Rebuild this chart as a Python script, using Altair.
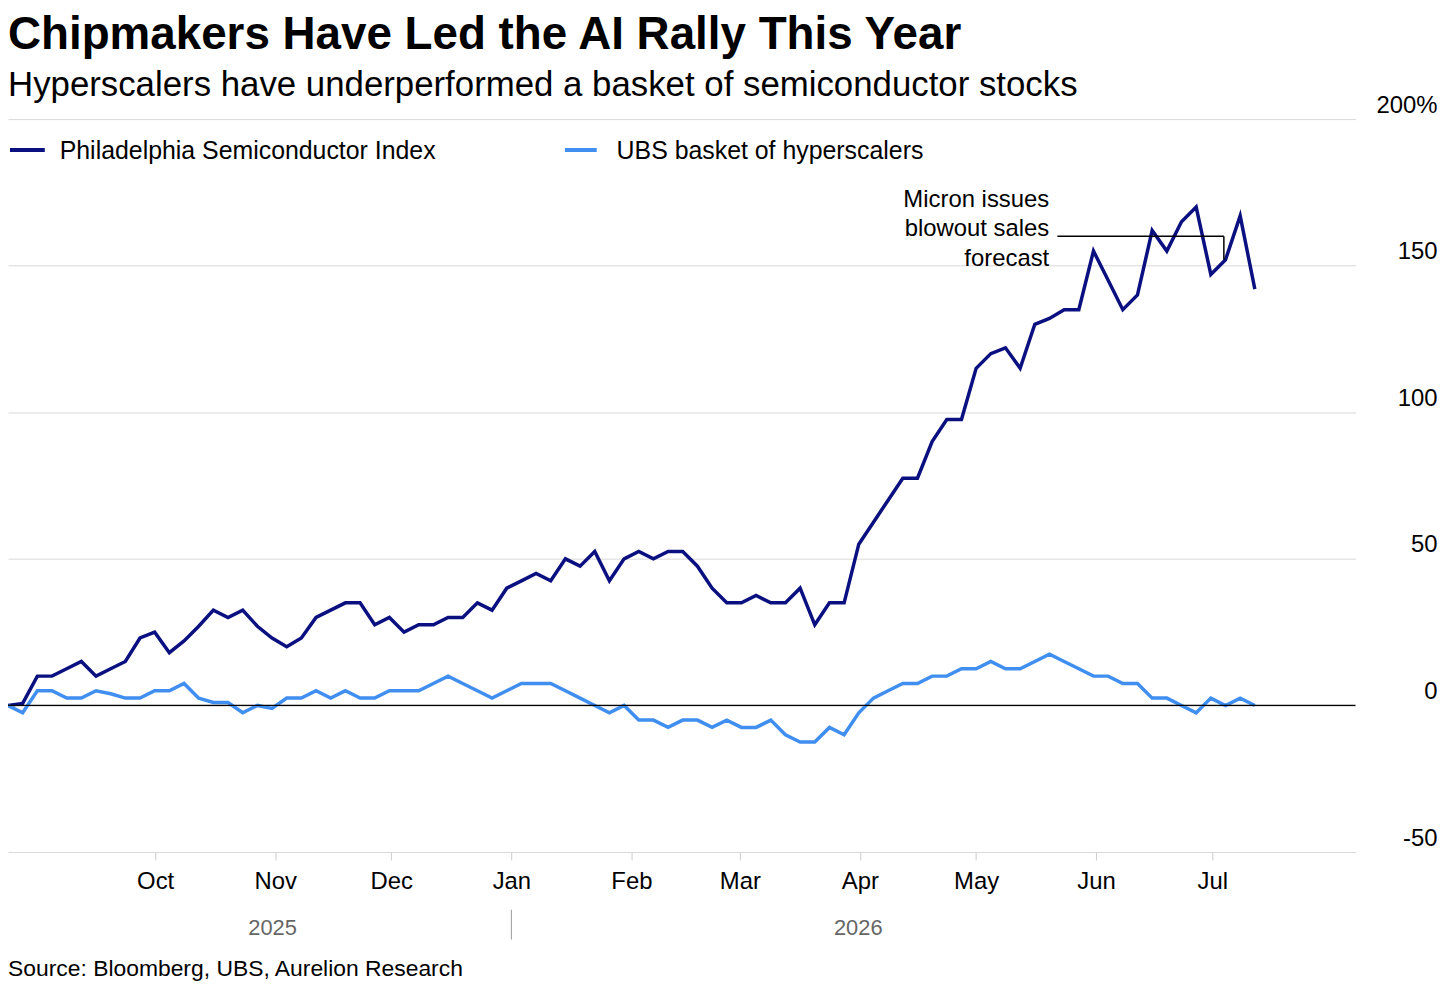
import altair as alt
import pandas as pd

start_date = "2025-08-24"
end_date = "2026-07-12"

sox = [0, 0.7, 10, 10, 12.5, 15, 10, 12.5, 15, 23, 25, 18, 22, 27, 32.5, 30, 32.5, 27, 23, 20,
       23, 30, 32.5, 35, 35, 27.5, 30, 25, 27.5, 27.5, 30, 30, 35, 32.5, 40, 42.5, 45, 42.5, 50, 47.5,
       52.5, 42.5, 50, 52.5, 50, 52.5, 52.5, 47.5, 40, 35, 35, 37.5, 35, 35, 40, 27.5, 35, 35, 55, 62.5,
       70, 77.5, 77.5, 90, 97.5, 97.5, 115, 120, 122, 115, 130, 132, 135, 135, 155, 145, 135, 140, 162, 155,
       165, 170, 147, 152, 167, 142]
ubs = [0, -2.5, 5, 5, 2.5, 2.5, 5, 4, 2.5, 2.5, 5, 5, 7.5, 2.5, 1, 1, -2.5, 0, -1, 2.5,
       2.5, 5, 2.5, 5, 2.5, 2.5, 5, 5, 5, 7.5, 10, 7.5, 5, 2.5, 5, 7.5, 7.5, 7.5, 5, 2.5,
       0, -2.5, 0, -5, -5, -7.5, -5, -5, -7.5, -5, -7.5, -7.5, -5, -10, -12.5, -12.5, -7.5, -10, -2.5, 2.5,
       5, 7.5, 7.5, 10, 10, 12.5, 12.5, 15, 12.5, 12.5, 15, 17.5, 15, 12.5, 10, 10, 7.5, 7.5, 2.5, 2.5,
       0, -2.5, 2.5, 0, 2.5, 0]

series_names = ["Philadelphia Semiconductor Index", "UBS basket of hyperscalers"]
series_colors = ["#0b1080", "#3f8ef0"]
month_ticks = ["2025-10-01", "2025-11-01", "2025-12-01", "2026-01-01", "2026-02-01",
               "2026-03-01", "2026-04-01", "2026-05-01", "2026-06-01", "2026-07-01"]

dates = pd.date_range(start_date, end_date, periods=len(sox))
df = pd.concat([
    pd.DataFrame({"date": dates, "value": sox, "series": series_names[0]}),
    pd.DataFrame({"date": dates, "value": ubs, "series": series_names[1]}),
])

FONT = "Liberation Sans"
x_dom = [pd.Timestamp("2025-08-24").isoformat(), pd.Timestamp("2026-08-07").isoformat()]
xs = alt.Scale(domain=x_dom)
ys = alt.Scale(domain=[-50, 200])
tick_vals = [alt.DateTime(year=int(m[:4]), month=int(m[5:7]), date=1) for m in month_ticks]

lines = alt.Chart(df).mark_line(strokeWidth=3.5).encode(
    x=alt.X("date:T", scale=xs, title=None,
            axis=alt.Axis(format="%b", values=tick_vals,
                          labelFontSize=24, labelColor="black", labelFont=FONT,
                          domain=False, grid=False, tickColor="#cccccc", tickSize=8,
                          labelPadding=10)),
    y=alt.Y("value:Q", scale=ys, title=None,
            axis=alt.Axis(orient="right", values=[-50, 0, 50, 100, 150, 200],
                          labelExpr="datum.value == 200 ? '200%' : (datum.value < 0 ? '-' + abs(datum.value) : datum.label)",
                          labelFontSize=24, labelColor="black", labelFont=FONT,
                          labelAlign="right", labelPadding=82, labelOffset=-14,
                          domain=False, ticks=False, gridColor="#d9d9d9")),
    color=alt.Color("series:N", scale=alt.Scale(domain=series_names, range=series_colors), legend=None),
)

zero = alt.Chart(pd.DataFrame({"v": [0]})).mark_rule(color="black", strokeWidth=1.3).encode(
    y=alt.Y("v:Q", scale=ys), x=alt.value(0), x2=alt.value(1355))

ann_h = alt.Chart(pd.DataFrame({"a": ["2026-05-22"], "b": ["2026-07-04"], "v": [160]})).mark_rule(
    color="black", strokeWidth=1.5).encode(x=alt.X("a:T", scale=xs), x2="b:T", y=alt.Y("v:Q", scale=ys))
ann_v = alt.Chart(pd.DataFrame({"a": ["2026-07-04"], "v": [160], "v2": [152]})).mark_rule(
    color="black", strokeWidth=1.5).encode(x=alt.X("a:T", scale=xs), y=alt.Y("v:Q", scale=ys), y2="v2:Q")
ann_t = alt.Chart(pd.DataFrame({"t": [["Micron issues", "blowout sales", "forecast"]]})).mark_text(
    align="right", baseline="alphabetic", fontSize=24, font=FONT, lineHeight=30, color="black").encode(
    text="t", x=alt.value(1047), y=alt.value(88))

def txt(s, x, y, size, weight="normal", color="black", align="left"):
    return alt.Chart(pd.DataFrame({"t": [s]})).mark_text(
        align=align, baseline="alphabetic", fontSize=size, fontWeight=weight, font=FONT, color=color
    ).encode(text="t", x=alt.value(x), y=alt.value(y))

leg1 = alt.Chart(pd.DataFrame({"v": [0]})).mark_rule(strokeWidth=4, color=series_colors[0]).encode(
    x=alt.value(2), x2=alt.value(37), y=alt.value(31))
leg2 = alt.Chart(pd.DataFrame({"v": [0]})).mark_rule(strokeWidth=4, color=series_colors[1]).encode(
    x=alt.value(560), x2=alt.value(592), y=alt.value(31))

sep = alt.Chart(pd.DataFrame({"a": ["2026-01-01"]})).mark_rule(color="#999999", strokeWidth=1).encode(
    x=alt.X("a:T", scale=xs), y=alt.value(795), y2=alt.value(825))

chart = alt.layer(
    lines, zero, ann_h, ann_v, ann_t, leg1, leg2, sep,
    txt("Chipmakers Have Led the AI Rally This Year", 0, -70, 46, weight="bold"),
    txt("Hyperscalers have underperformed a basket of semiconductor stocks", 0, -23, 35),
    txt(series_names[0], 52, 40, 25),
    txt(series_names[1], 612, 40, 25),
    txt("2025", 266, 820, 22, color="#666666", align="center"),
    txt("2026", 855, 820, 22, color="#666666", align="center"),
    txt("Source: Bloomberg, UBS, Aurelion Research", 0, 862, 23),
).properties(
    width=1355, height=737,
    autosize=alt.AutoSizeParams(type="none"),
    padding={"left": 0, "top": 109, "right": 93, "bottom": 130},
).configure_view(stroke=None)

chart.save("out.html", embed_options={"renderer": "svg", "actions": False})
